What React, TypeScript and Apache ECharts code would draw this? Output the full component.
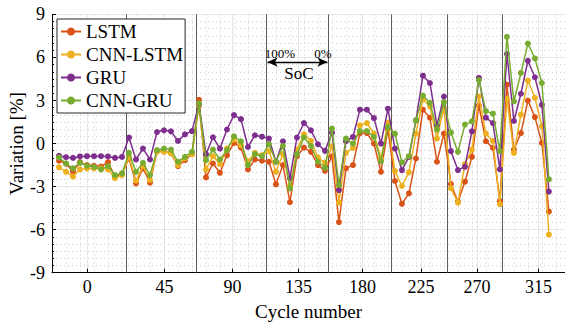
import React, { useEffect, useRef } from 'react';
import * as echarts from 'echarts';

const seriesNames = ['LSTM', 'CNN-LSTM', 'GRU', 'CNN-GRU'];
const seriesColors = ['#D95319', '#EDB120', '#7E2F8E', '#77AC30'];

const lstm = [
  -1.2, -1.4, -1.95, -1.3, -1.5, -1.55, -1.6, -1.3, -2.3, -2.1,
  -1.04, -2.77, -1.73, -2.73, -0.53, -0.53, -0.65, -1.57, -1.16, -0.74,
  3.05, -2.36, -1.39, -2.04, -0.81, 0.04, -0.28, -1.8, -1.11, -1.2,
  -1.27, -2.84, -1.5, -4.09, -0.88, -0.28, -0.58, -1.5, -1.9,
  -0.88, -5.47, -1.73, -1.5, 0.73, 0.73, 0.0, -1.97, 1.0,
  -2.61, -4.2, -3.47, -1.04, 2.36, 1.8, -1.27, 0.69,
  -2.82, -4.05, -2.66, -0.93, 2.65, 0.16, -0.3, -4.0,
  4.11, -0.42, 0.73, 3.0, 1.84, 0.04, -4.74,
];
const cnnLstm = [
  -1.66, -1.97, -2.3, -1.8, -1.73, -1.73, -1.73, -1.8, -2.42, -2.2,
  -0.93, -2.59, -1.57, -2.54, -0.58, -0.58, -0.69, -1.5, -1.04, -0.74,
  2.6, -1.8, -0.88, -1.43, -0.35, 0.28, -0.12, -1.23, -0.65, -0.81,
  -0.53, -1.97, -0.74, -3.0, -0.42, 0.64, 0.18, -0.97, -1.34,
  -0.2, -4.11, -0.65, -0.3, 1.27, 1.43, 0.69, -1.04, 1.46,
  -1.92, -2.96, -2.01, 0.69, 3.07, 2.58, 0.35, 2.49,
  -3.12, -4.12, -1.43, -0.42, 3.28, 0.69, 0.18, -4.23,
  3.12, -0.65, 2.01, 4.39, 3.19, 1.2, -6.35,
];
const gru = [
  -0.85, -0.95, -1.0, -0.9, -0.88, -0.88, -0.88, -0.9, -1.0, -0.93,
  0.42, -1.11, -0.35, -1.11, 0.8, 0.92, 0.85, 0.18, 0.64, 0.87,
  2.75, -0.74, 0.44, -0.35, 0.98, 1.98, 1.7, -0.24, 0.58, 0.48,
  0.35, -1.27, 0.16, -2.4, 0.42, 1.43, 0.92, -0.05, -0.51,
  0.76, -3.24, 0.16, 0.46, 2.36, 2.36, 1.77, 0.0, 2.43,
  -0.35, -1.85, -0.93, 1.61, 4.73, 4.22, 1.27, 3.28,
  -0.53, -1.85, -1.62, 0.85, 4.57, 1.8, 1.43, -1.8,
  6.24, 1.57, 3.47, 5.77, 4.62, 2.7, -3.35,
];
const cnnGru = [
  -0.97, -1.39, -1.73, -1.34, -1.55, -1.62, -1.8, -1.57, -2.2, -2.08,
  -0.65, -1.97, -1.34, -2.2, -0.46, -0.35, -0.42, -1.27, -0.93, -0.58,
  2.8, -1.16, -0.42, -1.11, -0.46, 0.51, 0.16, -1.5, -0.74, -0.88,
  -0.05, -1.27, -0.17, -3.12, -0.74, 0.42, -0.17, -1.27, -1.69,
  1.04, -2.89, 0.35, 0.0, 0.87, 0.87, 0.46, -1.24, 1.15,
  0.69, -1.32, -0.88, 1.61, 3.35, 2.84, 0.97, 2.88,
  0.76, -0.58, 1.32, 1.55, 4.43, 2.26, 2.08, -0.53,
  7.44, 2.93, 4.92, 6.97, 5.93, 4.22, -2.5,
];

const xTickPositions = [4.03, 15.07, 24.79, 34.21, 43.36, 51.74, 59.74, 68.5];
const xTickLabels = ['0', '45', '90', '135', '180', '225', '270', '315'];
const segmentBounds = [9.6, 19.6, 29.6, 38.54, 47.46, 55.54, 63.4];
const socArrow = { from: 29.8, to: 38.36, y: 5.68 };

const FONT = 'Liberation Serif';

export default function App() {
  const ref = useRef<HTMLDivElement>(null);
  useEffect(() => {
    const chart = echarts.init(ref.current!, null, { renderer: 'svg' });
    const allData = [lstm, cnnLstm, gru, cnnGru];
    const series: any[] = allData.map((arr, k) => ({
      name: seriesNames[k],
      type: 'line',
      xAxisIndex: 0,
      yAxisIndex: 0,
      data: arr.map((v, i) => [i, v]),
      symbol: 'circle',
      symbolSize: 6,
      color: seriesColors[k],
      lineStyle: { width: 1.5, color: seriesColors[k] },
      itemStyle: { color: seriesColors[k] },
      z: 3 + k,
    }));
    series[0].markLine = {
      silent: true,
      symbol: ['none', 'none'],
      label: { show: false },
      lineStyle: { color: '#5a5a5a', width: 1, type: 'solid' },
      data: segmentBounds.map((x) => ({ xAxis: x })),
      z: 1,
    };
    series[1].markLine = {
      silent: true,
      symbol: ['arrow', 'arrow'],
      symbolSize: [7, 10],
      label: { show: false },
      lineStyle: { color: '#000', width: 1.3, type: 'solid' },
      data: [[{ coord: [socArrow.from, socArrow.y] }, { coord: [socArrow.to, socArrow.y] }]],
    };

    chart.setOption({
      animation: false,
      backgroundColor: '#fff',
      textStyle: { fontFamily: FONT },
      grid: { left: 52, right: 0, top: 14.4, bottom: 54.3, containLabel: false, outerBoundsMode: 'none' },
      legend: {
        data: seriesNames,
        orient: 'vertical',
        left: 57,
        top: 19,
        padding: [3, 2, 3, 3],
        itemGap: 4,
        itemWidth: 20,
        itemHeight: 10,
        backgroundColor: '#fff',
        borderColor: '#262626',
        borderWidth: 1,
        textStyle: { fontFamily: FONT, fontSize: 19, color: '#000', lineHeight: 18 },
        z: 10,
      },
      xAxis: [
        {
          type: 'value',
          min: -1,
          max: 72.3,
          name: 'Cycle number',
          nameLocation: 'middle',
          nameGap: 29,
          nameMoveOverlap: false,
          nameTextStyle: { fontFamily: FONT, fontSize: 19, color: '#000' },
          axisLine: { show: true, onZero: false, lineStyle: { color: '#000', width: 1 } },
          axisTick: { show: true, inside: true, length: 4, customValues: xTickPositions, lineStyle: { color: '#000' } },
          axisLabel: {
            customValues: xTickPositions,
            margin: 5,
            fontFamily: FONT,
            fontSize: 18,
            color: '#000',
            formatter: (v: number) => {
              let best = 0;
              xTickPositions.forEach((p, i) => {
                if (Math.abs(p - v) < Math.abs(xTickPositions[best] - v)) best = i;
              });
              return xTickLabels[best];
            },
          },
          splitLine: { show: true, lineStyle: { color: '#e6e6e6', width: 1 } },
        },
        {
          type: 'value',
          min: -1,
          max: 72.3,
          interval: 2,
          position: 'top',
          axisLine: { show: false },
          axisTick: { show: false },
          axisLabel: { show: false },
          splitLine: { show: true, lineStyle: { color: '#cfcfcf', width: 1, type: [1, 3] } },
        },
      ],
      yAxis: {
        type: 'value',
        min: -9,
        max: 9,
        interval: 3,
        name: 'Variation [%]',
        nameLocation: 'middle',
        nameGap: 26,
        nameMoveOverlap: false,
        nameTextStyle: { fontFamily: FONT, fontSize: 19, color: '#000' },
        axisLine: { show: true, onZero: false, lineStyle: { color: '#000', width: 1 } },
        axisTick: { show: true, inside: true, length: 4, lineStyle: { color: '#000' } },
        minorTick: { show: true, splitNumber: 6, length: 2, lineStyle: { color: '#000' } },
        axisLabel: { margin: 7, fontFamily: FONT, fontSize: 18, color: '#000' },
        splitLine: { show: true, lineStyle: { color: '#e6e6e6', width: 1 } },
        minorSplitLine: { show: true, lineStyle: { color: '#cfcfcf', width: 1, type: [1, 3] } },
      },
      graphic: [
        { type: 'text', x: 280, y: 53, style: { text: '100%', fontFamily: FONT, fontSize: 13, fill: '#000', align: 'center', verticalAlign: 'middle' }, z: 20 },
        { type: 'text', x: 323, y: 53, style: { text: '0%', fontFamily: FONT, fontSize: 13, fill: '#000', align: 'center', verticalAlign: 'middle' }, z: 20 },
        { type: 'text', x: 299, y: 73.5, style: { text: 'SoC', fontFamily: FONT, fontSize: 17, fill: '#000', align: 'center', verticalAlign: 'middle' }, z: 20 },
      ],
      series,
    });
    return () => chart.dispose();
  }, []);
  return <div ref={ref} style={{ position: 'fixed', left: 0, top: 0, width: 565, height: 327 }} />;
}
